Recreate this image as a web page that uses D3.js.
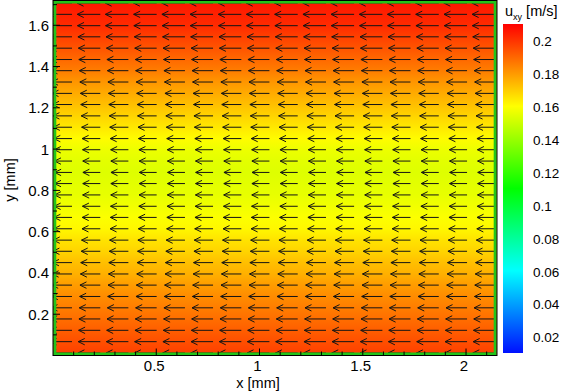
<!DOCTYPE html>
<html><head><meta charset="utf-8">
<script src="https://cdn.jsdelivr.net/npm/d3@7"></script>
<style>
html,body{margin:0;padding:0;background:#fff;}
svg{display:block;font-family:"Liberation Sans",Arial,sans-serif;}
</style></head>
<body>
<svg id="chart" width="562" height="391"></svg>
<script>
// ---- data ----
const colX = [0.092, 0.229, 0.365, 0.502, 0.639, 0.775, 0.912, 1.048, 1.185, 1.322, 1.458, 1.595, 1.731, 1.868, 2.005, 2.141];
const rowY = [1.708, 1.653, 1.598, 1.544, 1.489, 1.434, 1.380, 1.325, 1.270, 1.216, 1.161, 1.106, 1.051, 0.997, 0.942, 0.887,
              0.833, 0.778, 0.723, 0.669, 0.614, 0.559, 0.505, 0.450, 0.395, 0.341, 0.286, 0.231, 0.177, 0.122, 0.067, 0.012];
const rowU = [0.206, 0.204, 0.202, 0.198, 0.194, 0.190, 0.186, 0.181, 0.177, 0.173, 0.169, 0.165, 0.161, 0.157, 0.155, 0.154,
              0.155, 0.156, 0.158, 0.160, 0.162, 0.166, 0.169, 0.173, 0.176, 0.180, 0.183, 0.186, 0.189, 0.192, 0.195, 0.198];
const xTicks = [0.5, 1, 1.5, 2];
const yTicks = [0.2, 0.4, 0.6, 0.8, 1, 1.2, 1.4, 1.6];
const cbTicks = [0.02, 0.04, 0.06, 0.08, 0.1, 0.12, 0.14, 0.16, 0.18, 0.2];
const cmapStops = [0.0105, 0.0605, 0.1105, 0.1605, 0.2105];
const cmapColors = ["#0010ff", "#00ffff", "#00ff00", "#ffff00", "#ff0000"];

// ---- layout ----
const svg = d3.select("#chart");
const L = 53, R = 497, T = 0.5, B = 355.5;
const x = d3.scaleLinear().domain([0, 2.15]).range([L, R]);
const y = d3.scaleLinear().domain([0, 1.72]).range([B, T]);
const color = d3.scaleLinear().domain(cmapStops).range(cmapColors);
const arrowMmPerU = 0.547;

const defs = svg.append("defs");
// background field gradient
const bg = defs.append("linearGradient").attr("id", "field")
  .attr("gradientUnits", "userSpaceOnUse").attr("x1", 0).attr("x2", 0)
  .attr("y1", y(1.72)).attr("y2", y(0));
const prof = rowY.map((v, i) => ({y: v, u: rowU[i]}));
bg.append("stop").attr("offset", 0).attr("stop-color", color(rowU[0]));
prof.forEach(d => bg.append("stop")
  .attr("offset", (y(d.y) - y(1.72)) / (y(0) - y(1.72)))
  .attr("stop-color", color(d.u)));
bg.append("stop").attr("offset", 1).attr("stop-color", color(rowU[rowU.length - 1]));

defs.append("clipPath").attr("id", "clip").append("rect")
  .attr("x", L).attr("y", T).attr("width", R - L).attr("height", B - T);

svg.append("rect").attr("x", L).attr("y", T).attr("width", R - L).attr("height", B - T)
  .attr("fill", "url(#field)");

// arrows
const g = svg.append("g").attr("clip-path", "url(#clip)");
const arrows = [];
prof.forEach(r => colX.forEach(cx => arrows.push({x: cx, y: r.y, u: r.u})));
g.selectAll("path.arrow").data(arrows).enter().append("path")
  .attr("class", "arrow")
  .attr("d", d => {
    const tx = x(d.x), ty = y(d.y), hx = x(d.x - d.u * arrowMmPerU);
    return `M${tx},${ty}L${hx},${ty}M${hx + 6.5},${ty - 3.2}L${hx},${ty}L${hx + 6.5},${ty + 3.2}`;
  })
  .attr("fill", "none").attr("stroke", "#141414").attr("stroke-width", 1);

// green boundary
svg.append("rect").attr("x", L + 1.8).attr("y", T + 1.5).attr("width", R - L - 3.6).attr("height", B - T - 3)
  .attr("fill", "none").attr("stroke", "#22c41a").attr("stroke-width", 3);

// ticks (inside)
const tk = svg.append("g").attr("stroke", "#000").attr("stroke-width", 1);
d3.range(1, 22).map(i => i / 10).forEach(v => {
  const major = xTicks.some(t => Math.abs(t - v) < 1e-6);
  tk.append("line").attr("x1", x(v)).attr("x2", x(v)).attr("y1", B).attr("y2", B - (major ? 7 : 4));
});
d3.range(1, 18).map(i => i / 10).forEach(v => {
  const major = yTicks.some(t => Math.abs(t - v) < 1e-6);
  tk.append("line").attr("y1", y(v)).attr("y2", y(v)).attr("x1", L).attr("x2", L + (major ? 7 : 4));
});

// frame
svg.append("rect").attr("x", L).attr("y", T).attr("width", R - L).attr("height", B - T)
  .attr("fill", "none").attr("stroke", "#000").attr("stroke-width", 1);

// tick labels
svg.append("g").selectAll("text").data(xTicks).enter().append("text")
  .attr("x", d => x(d) - 2).attr("y", 371).attr("text-anchor", "middle")
  .attr("font-size", 15).attr("fill", "#000").text(d => d);
svg.append("g").selectAll("text").data(yTicks).enter().append("text")
  .attr("x", 49).attr("y", d => y(d) + 5.5).attr("text-anchor", "end")
  .attr("font-size", 15).attr("fill", "#000").text(d => d);

svg.append("text").attr("x", 258).attr("y", 387.5).attr("text-anchor", "middle")
  .attr("font-size", 14.5).text("x [mm]");
svg.append("text").attr("transform", "translate(15,180) rotate(-90)").attr("text-anchor", "middle")
  .attr("font-size", 14.5).text("y [mm]");

// colorbar
const cbX = 503, cbW = 20, cbTop = 24, cbBot = 353;
const cb = d3.scaleLinear().domain([cmapStops[0], cmapStops[cmapStops.length - 1]]).range([cbBot, cbTop]);
const cg = defs.append("linearGradient").attr("id", "cbar")
  .attr("x1", 0).attr("x2", 0).attr("y1", 1).attr("y2", 0);
cmapStops.forEach((s, i) => cg.append("stop")
  .attr("offset", (s - cmapStops[0]) / (cmapStops[4] - cmapStops[0]))
  .attr("stop-color", cmapColors[i]));
svg.append("rect").attr("x", cbX).attr("y", cbTop).attr("width", cbW).attr("height", cbBot - cbTop)
  .attr("fill", "url(#cbar)");
svg.append("g").selectAll("text").data(cbTicks).enter().append("text")
  .attr("x", 533).attr("y", d => cb(d) + 5).attr("font-size", 13.5).attr("fill", "#000").text(d => d);

const title = svg.append("text").attr("x", 505).attr("y", 16).attr("font-size", 14.5);
title.append("tspan").text("u");
title.append("tspan").attr("font-size", 9).attr("dy", 4).text("xy");
title.append("tspan").attr("dy", -4).text(" [m/s]");
</script>
</body></html>
